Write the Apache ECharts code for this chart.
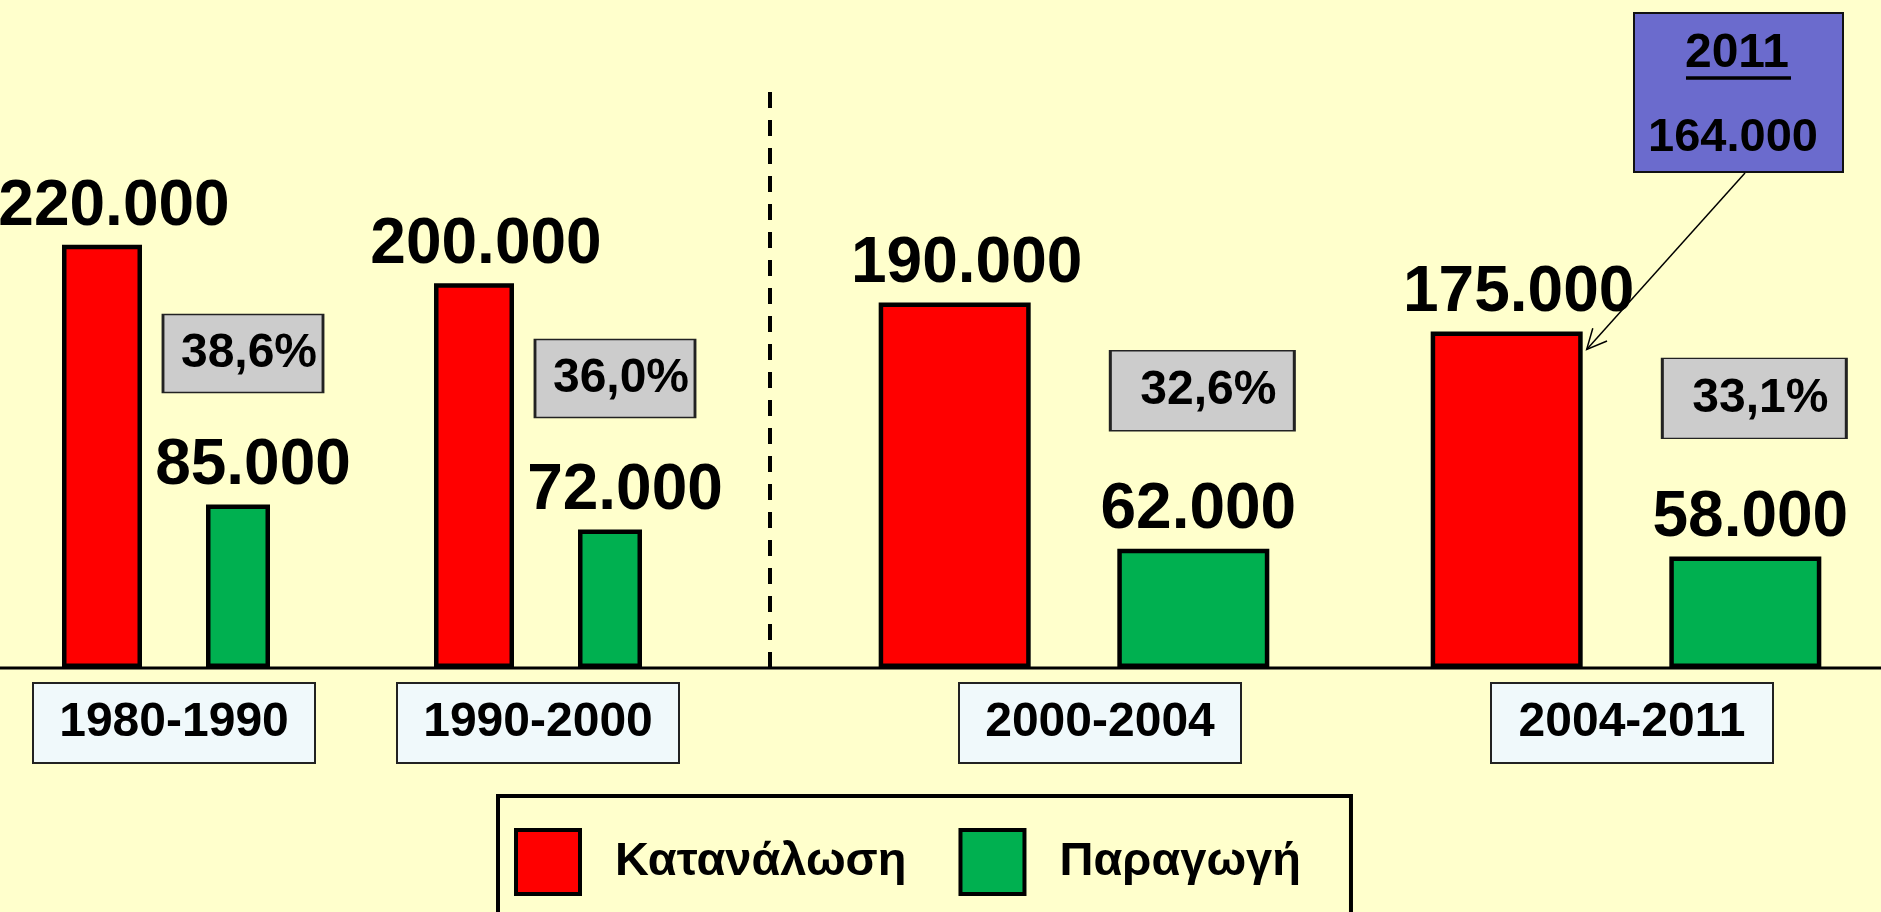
<!DOCTYPE html>
<html>
<head>
<meta charset="utf-8">
<title>Κατανάλωση - Παραγωγή</title>
<script src="https://cdn.jsdelivr.net/npm/echarts@6/dist/echarts.min.js"></script>
<style>
  html, body { margin: 0; padding: 0; background: #FFFFCC; }
  #chart { width: 1881px; height: 912px; }
</style>
</head>
<body>
<div id="chart"></div>
<script>
// data
const periods = ['1980-1990', '1990-2000', '2000-2004', '2004-2011'];
const consumption = [220000, 200000, 190000, 175000];
const production = [85000, 72000, 62000, 58000];
const productionShare = [38.6, 36.0, 32.6, 33.1];
const seriesNames = ['Κατανάλωση', 'Παραγωγή'];
const noteYear = '2011';
const noteValue = 164000;

const FONT = '"Liberation Sans", Arial, sans-serif';
const RED = '#FF0000';
const GREEN = '#00B050';

function thousands (v) {
  return String(v).replace(/\B(?=(\d{3})+(?!\d))/g, '.');
}
function pct (v) {
  return v.toFixed(1).replace('.', ',') + '%';
}

// left block (before the dashed line) and right block use different bar widths
const blocks = [
  { idx: [0, 1], left: -20, right: 1157, redW: 80, greenW: 64, gap: '80%', box: [160, 78], boxOff: [5, -151], redNudge: 12, greenNudge: 15, tagShift: [8, 0] },
  { idx: [2, 3], left: 798, right: -21, redW: 152, greenW: 152, gap: '57%', box: [184, 80], boxOff: [9, -158], redNudge: 12, greenNudge: 5, tagShift: [26, 6] }
]

const valueLabel = {
  show: true,
  position: 'top',
  distance: 6,
  fontFamily: FONT,
  fontSize: 64,
  fontWeight: 'bold',
  color: '#000',
  formatter: function (p) { return thousands(p.value) }
}

const grid = []
const xAxis = []
const yAxis = []
const series = []
blocks.forEach(function (b, g) {
  const rich = {
    t: {
      fontFamily: FONT,
      fontSize: 48,
      fontWeight: 'bold',
      color: '#000',
      backgroundColor: '#F0F9FB',
      borderColor: '#222',
      borderWidth: 2,
      padding: [14, 20],
      width: 240,
      height: 50,
      lineHeight: 50,
      align: 'center'
    }
  }
  // spacer tokens push the framed period label a little off centre, as in the slide
  b.tagShift.forEach(function (sh, k) {
    rich['s' + k] = { width: 2 * sh, fontSize: 10 }
  })
  grid.push({ left: b.left, right: b.right, top: 91, bottom: 244, containLabel: false, outerBoundsMode: 'none' })
  xAxis.push({
    type: 'category',
    gridIndex: g,
    data: b.idx.map(function (i) { return periods[i] }),
    axisLine: { show: false },
    axisTick: { show: false },
    axisLabel: {
      interval: 0,
      margin: 30,
      align: 'center',
      formatter: function (v, k) {
        return b.tagShift[k] > 0 ? '{s' + k + '| }{t|' + v + '}' : '{t|' + v + '}'
      },
      rich: rich
    }
  })
  yAxis.push({ type: 'value', gridIndex: g, min: 0, max: 300000, show: false })
  series.push({
    name: seriesNames[0],
    type: 'bar',
    xAxisIndex: g,
    yAxisIndex: g,
    barWidth: b.redW,
    barGap: b.gap,
    itemStyle: { color: RED, borderColor: '#000', borderWidth: 4.5 },
    label: Object.assign({}, valueLabel, { offset: [b.redNudge, 0] }),
    data: b.idx.map(function (i) { return consumption[i] })
  })
  series.push({
    name: seriesNames[1],
    type: 'bar',
    xAxisIndex: g,
    yAxisIndex: g,
    barWidth: b.greenW,
    barGap: b.gap,
    itemStyle: { color: GREEN, borderColor: '#000', borderWidth: 4.5 },
    label: Object.assign({}, valueLabel, { offset: [b.greenNudge, 0] }),
    data: b.idx.map(function (i) { return production[i] }),
    markPoint: {
      silent: true,
      symbol: 'rect',
      symbolSize: b.box,
      symbolOffset: b.boxOff,
      itemStyle: { color: '#CCCCCC', borderColor: '#222', borderWidth: 2 },
      label: {
        show: true,
        position: 'inside',
        offset: [6, 0],
        fontFamily: FONT,
        fontSize: 48,
        fontWeight: 'bold',
        color: '#000',
        formatter: function (p) { return pct(p.value) }
      },
      data: b.idx.map(function (i) {
        return { coord: [periods[i], production[i]], value: productionShare[i] }
      })
    }
  })
})

const chart = echarts.init(document.getElementById('chart'))
chart.setOption({
  animation: false,
  backgroundColor: '#FFFFCC',
  grid: grid,
  xAxis: xAxis,
  yAxis: yAxis,
  legend: {
    data: seriesNames,
    left: 498,
    top: 796,
    icon: 'rect',
    itemWidth: 64,
    itemHeight: 64,
    itemGap: 52,
    padding: [32, 50, 40, 16],
    backgroundColor: '#FFFFCC',
    borderColor: '#000',
    borderWidth: 4,
    selectedMode: false,
    itemStyle: { borderColor: '#000', borderWidth: 4 },
    textStyle: { fontFamily: FONT, fontSize: 47, fontWeight: 'bold', color: '#000', padding: [0, 0, 0, 30] }
  },
  series: series
})

// baseline, separator and the 2011 note
const zeroY = chart.convertToPixel({ yAxisIndex: 0 }, 0)
const top4 = chart.convertToPixel({ xAxisIndex: 1, yAxisIndex: 1 }, [periods[3], consumption[3]])
const b2 = blocks[1]
const total = b2.redW * (1 + parseFloat(b2.gap) / 100) + b2.greenW
const barRight = top4[0] - total / 2 + b2.redW
const tip = [barRight + 4, top4[1] + 18]
const from = [1745, 173]
const dx = from[0] - tip[0]
const dy = from[1] - tip[1]
const len = Math.sqrt(dx * dx + dy * dy)
const ux = dx / len
const uy = dy / len
function wing (a) {
  const c = Math.cos(a)
  const s = Math.sin(a)
  return [tip[0] + 22 * (ux * c - uy * s), tip[1] + 22 * (ux * s + uy * c)]
}

chart.setOption({
  graphic: [
    { type: 'line', z: 0, shape: { x1: 0, y1: zeroY, x2: 1881, y2: zeroY }, style: { stroke: '#000', lineWidth: 3 } },
    { type: 'line', z: 0, shape: { x1: 770, y1: 92, x2: 770, y2: zeroY }, style: { stroke: '#000', lineWidth: 4, lineDash: [16, 12] } },
    { type: 'rect', z: 10, shape: { x: 1634, y: 13, width: 209, height: 159 }, style: { fill: '#6B6BCD', stroke: '#111', lineWidth: 2 } },
    { type: 'text', z: 11, x: 1737, y: 54, style: { text: noteYear, font: 'bold 48px ' + FONT, fill: '#000', align: 'center', verticalAlign: 'middle' } },
    { type: 'line', z: 11, shape: { x1: 1686, y1: 78, x2: 1791, y2: 78 }, style: { stroke: '#000', lineWidth: 3.5 } },
    { type: 'text', z: 11, x: 1733, y: 138, style: { text: thousands(noteValue), font: 'bold 47px ' + FONT, fill: '#000', align: 'center', verticalAlign: 'middle' } },
    { type: 'line', z: 11, shape: { x1: from[0], y1: from[1], x2: tip[0], y2: tip[1] }, style: { stroke: '#000', lineWidth: 1.5 } },
    { type: 'polyline', z: 11, shape: { points: [wing(0.45), tip, wing(-0.45)] }, style: { stroke: '#000', lineWidth: 1.5, fill: null } }
  ]
})
</script>
</body>
</html>
